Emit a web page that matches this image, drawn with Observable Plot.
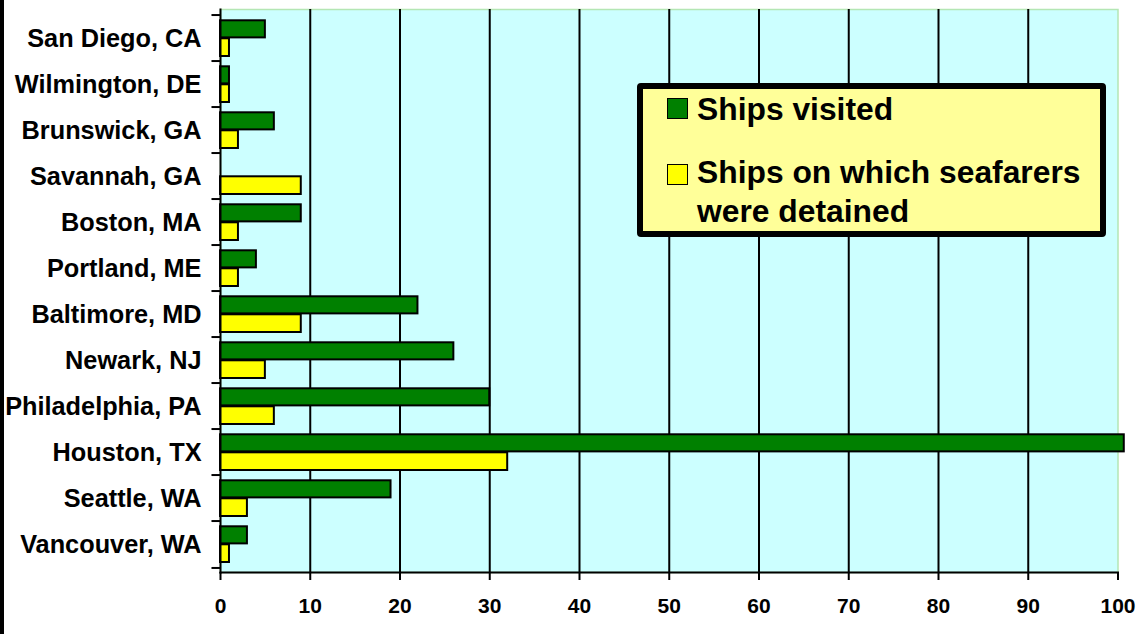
<!DOCTYPE html>
<html>
<head>
<meta charset="utf-8">
<script src="https://cdn.jsdelivr.net/npm/d3@7"></script>
<script src="https://cdn.jsdelivr.net/npm/@observablehq/plot@0.6"></script>
<style>
  html, body { margin: 0; padding: 0; background: #ffffff; }
  #wrap { position: relative; width: 1136px; height: 634px; overflow: hidden; font-family: "Liberation Sans", Arial, sans-serif; }
  #strip { position: absolute; left: 0; top: 0; width: 4px; height: 634px; background: #000; }
  #legend { position: absolute; left: 637px; top: 83px; width: 469px; height: 154px; box-sizing: border-box;
            border: 6px solid #000; border-radius: 4px; background: #FFFF99; }
  #legend .sw { position: absolute; left: 23.7px; width: 21px; height: 21px; box-sizing: border-box; border: 1.5px solid #000; }
  #legend .tx { position: absolute; left: 54px; font-weight: bold; font-size: 31.8px; line-height: 38.4px; color: #000; white-space: nowrap; }
</style>
</head>
<body>
<div id="wrap">
  <div id="chart"></div>
  <div id="strip"></div>
  <div id="legend"></div>
</div>
<script>
const cities = ["San Diego, CA", "Wilmington, DE", "Brunswick, GA", "Savannah, GA", "Boston, MA", "Portland, ME",
                "Baltimore, MD", "Newark, NJ", "Philadelphia, PA", "Houston, TX", "Seattle, WA", "Vancouver, WA"];
const shipsVisited  = [5, 1, 6, 0, 9, 4, 22, 26, 30, 100.7, 19, 3];
const shipsDetained = [1, 1, 2, 9, 2, 2, 9, 5, 6, 32, 3, 1];
const seriesNames = ["Ships visited", "Ships on which seafarers were detained"];
const seriesColors = ["#008000", "#FFFF00"];
const xTicks = [0, 10, 20, 30, 40, 50, 60, 70, 80, 90, 100];

const W = 1136, H = 634;
const mTop = 9, mBottom = 62, mLeft = 220, mRight = 18.5;
const band = (H - mTop - mBottom) / cities.length;

const visitedRows = cities.map((c, i) => ({city: c, value: shipsVisited[i]})).filter(d => d.value > 0);
const detainedRows = cities.map((c, i) => ({city: c, value: shipsDetained[i]})).filter(d => d.value > 0);

const chart = Plot.plot({
  width: W, height: H,
  marginTop: mTop, marginBottom: mBottom, marginLeft: mLeft, marginRight: mRight,
  style: {fontFamily: "'Liberation Sans', Arial, sans-serif", fontWeight: "bold", color: "#000", background: "transparent"},
  x: {domain: [0, 100]},
  y: {domain: cities, padding: 0},
  marks: [
    Plot.frame({fill: "#CCFFFF", stroke: "#b4e6b4", strokeWidth: 1.5}),
    Plot.gridX(xTicks.filter(t => t > 0 && t < 100), {stroke: "#000", strokeOpacity: 1, strokeWidth: 2}),
    Plot.barX(visitedRows, {y: "city", x: "value", fill: seriesColors[0], stroke: "#000", strokeWidth: 2,
      insetTop: 5.3, insetBottom: band - 23.3}),
    Plot.barX(detainedRows, {y: "city", x: "value", fill: seriesColors[1], stroke: "#000", strokeWidth: 2,
      insetTop: 23.3, insetBottom: 5}),
    Plot.frame({anchor: "left", stroke: "#000", strokeWidth: 2}),
    Plot.frame({anchor: "bottom", stroke: "#000", strokeWidth: 2}),
    Plot.ruleY(cities, {y: d => d, dy: -band / 2, x1: -0.95, x2: 0, stroke: "#000", strokeWidth: 2}),
    Plot.ruleY(cities.slice(-1), {y: d => d, dy: band / 2, x1: -0.95, x2: 0, stroke: "#000", strokeWidth: 2}),
    Plot.axisY({tickSize: 0, tickPadding: 19, fontSize: 25.3, fontWeight: "bold", label: null}),
    Plot.axisX({ticks: xTicks, tickSize: 8, tickPadding: 18, fontSize: 21, fontWeight: "bold",
      stroke: "#000", strokeWidth: 2, label: null, tickFormat: d => String(d)})
  ]
});
document.getElementById("chart").appendChild(chart);

const legend = document.getElementById("legend");
const entries = [
  {lines: ["Ships visited"], swTop: 9.3, txTop: 1.05},
  {lines: ["Ships on which seafarers", "were detained"], swTop: 75.3, txTop: 64.35}
];
entries.forEach((e, i) => {
  const sw = document.createElement("div");
  sw.className = "sw";
  sw.style.top = e.swTop + "px";
  sw.style.background = seriesColors[i];
  legend.appendChild(sw);
  const tx = document.createElement("div");
  tx.className = "tx";
  tx.style.top = e.txTop + "px";
  tx.innerHTML = e.lines.join("<br>");
  legend.appendChild(tx);
});
</script>
</body>
</html>
